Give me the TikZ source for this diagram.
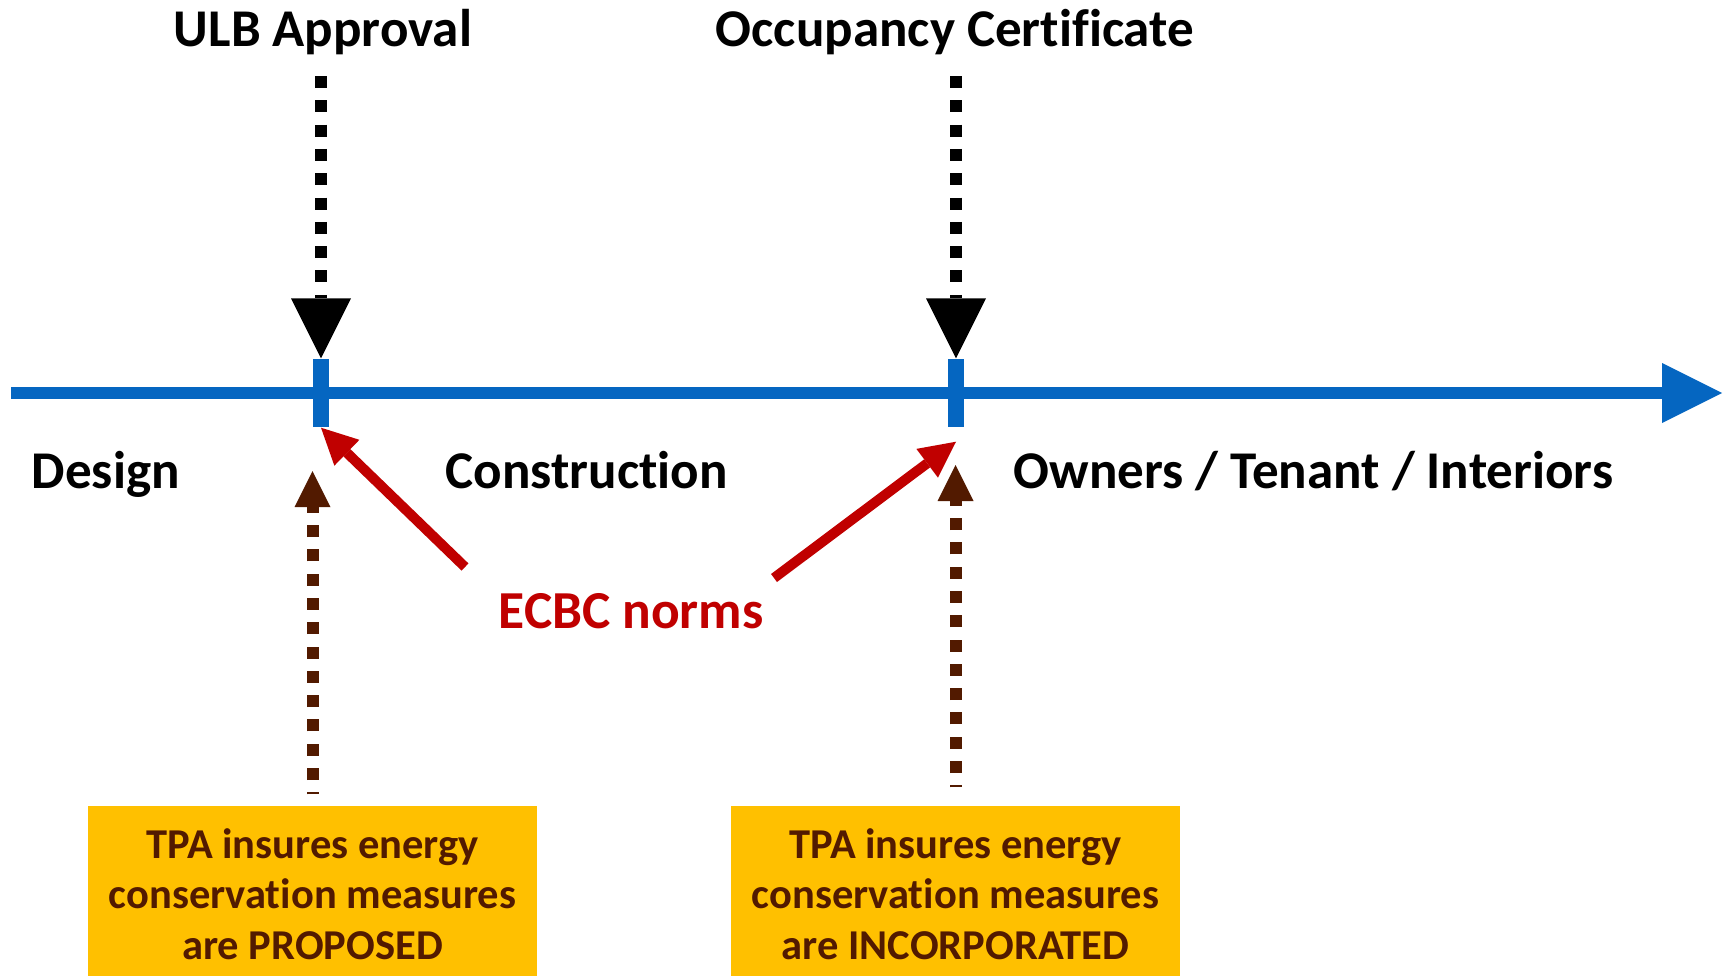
\documentclass[tikz,border=0pt]{standalone}
\usepackage{fontspec}
\setmainfont[Ligatures=NoCommon]{Carlito}
\usepackage{xcolor}
\usepackage{tikz}
\usetikzlibrary{arrows.meta}
\usetikzlibrary{positioning}
\definecolor{axisblue}{HTML}{0566C1}
\definecolor{normred}{HTML}{C00000}
\definecolor{tpabrown}{HTML}{521A00}
\definecolor{tpagold}{HTML}{FFC000}
\tikzset{
    big_text/.style = {font=\bfseries\fontsize{15.1}{18}\selectfont, inner sep=0pt},
    head_text/.style = {big_text, anchor=base},
    phase_text/.style = {big_text, anchor=base west},
    norm_text/.style = {big_text, text=normred, anchor=base west, font=\bfseries\fontsize{15.2}{18}\selectfont},
    tpa_box/.style = {fill=tpagold, text=tpabrown, align=center, inner sep=0pt,
        font=\bfseries\fontsize{12.1}{14.3}\selectfont, minimum width=4.49cm, minimum height=1.76cm},
    tick_mark/.style = {rectangle, fill=axisblue, inner sep=0pt, minimum width=0.16cm, minimum height=0.68cm},
    axis_line/.style = {axisblue, line width=0.12cm, -{Triangle[length=0.6cm, width=0.6cm, line width=0pt]}},
    milestone_arrow/.style = {black, line width=0.12cm, dash pattern=on 0.12cm off 0.123cm,
        -{Triangle[length=0.6cm, width=0.6cm, line width=0pt]}},
    norm_arrow/.style = {normred, line width=0.1cm, -{Triangle[length=0.36cm, width=0.36cm, line width=0pt]}},
    tpa_arrow/.style = {tpabrown, line width=0.12cm, dash pattern=on 0.12cm off 0.123cm, dash phase=0.1cm,
        -{Triangle[length=0.36cm, width=0.36cm, line width=0pt]}}
}

\begin{document}
\begin{tikzpicture}
    \useasboundingbox (0,0) rectangle (17.27,-9.75);

    % time line
    \coordinate (axis_start) at (0.11,-3.93);
    \coordinate (axis_end) at (17.22,-3.93);
    \draw[axis_line] (axis_start) -- (axis_end);
    \node[tick_mark] (t1) at (3.21,-3.93) {};
    \node[tick_mark] (t2) at (9.56,-3.93) {};

    % milestones
    \node[head_text] (ulb) at (3.23,-0.46) {ULB Approval};
    \node[head_text] (occ) at (9.55,-0.46) {Occupancy Certificate};
    \draw[milestone_arrow, shorten <=0.21cm] (ulb.south -| t1) -- (t1.north);
    \draw[milestone_arrow, shorten <=0.21cm] (occ.south -| t2) -- (t2.north);

    % phases
    \node[phase_text] (design) at (0.31,-4.88) {Design};
    \node[phase_text] (constr) at (4.45,-4.88) {Construction};
    \node[phase_text] (owners) at (10.13,-4.88) {Owners / Tenant / Interiors};

    % ECBC
    \node[norm_text] (ecbc) at (4.98,-6.28) {ECBC norms};
    \coordinate (e1) at (4.65,-5.67);
    \coordinate (e2) at (7.74,-5.78);
    \draw[norm_arrow] (e1) -- (t1.south);
    \draw[norm_arrow] (e2) -- ([yshift=-0.14cm]t2.south);

    % TPA boxes
    \node[tpa_box] (prop) at (3.125,-8.94) {TPA insures energy\\conservation measures\\are PROPOSED};
    \node[tpa_box] (inc) at (9.555,-8.94) {TPA insures energy\\conservation measures\\are INCORPORATED};
    \coordinate (p_tip) at (3.125,-4.71);
    \coordinate (i_tip) at (9.555,-4.65);
    \draw[tpa_arrow, shorten <=0.11cm] (prop.north) -- (p_tip);
    \draw[tpa_arrow, shorten <=0.18cm] (inc.north) -- (i_tip);
\end{tikzpicture}
\end{document}
